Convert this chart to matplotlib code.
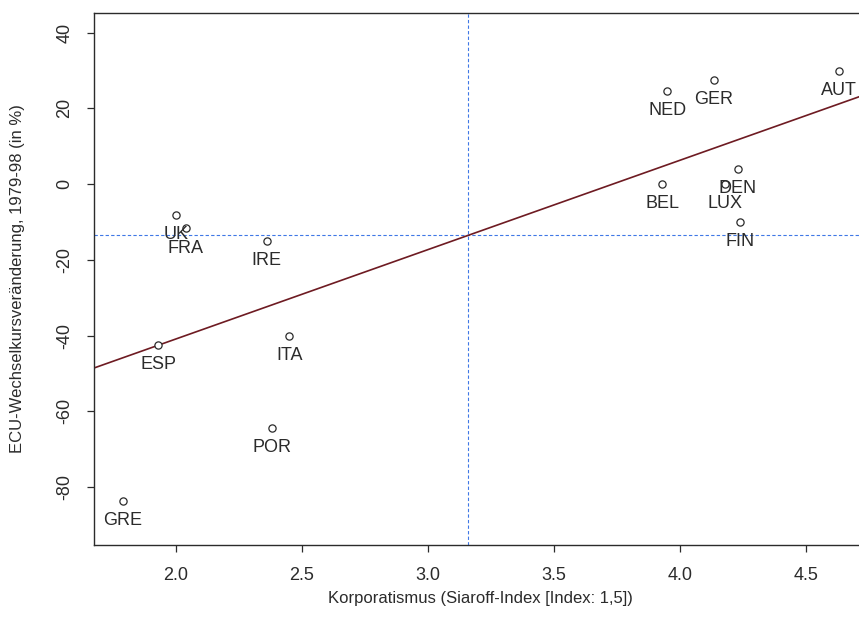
import numpy as np
import matplotlib
matplotlib.use("Agg")
import matplotlib.pyplot as plt

# ── Data ──────────────────────────────────────────────────────────────────────
countries = ["GRE", "ESP", "ITA", "POR", "UK", "FRA", "IRE",
             "NED", "GER", "AUT", "BEL", "DEN", "LUX", "FIN"]
korporatismus = [1.79, 1.93, 2.45, 2.38, 2.00, 2.04, 2.36,
                 3.95, 4.135, 4.63, 3.93, 4.23, 4.18, 4.24]
ecu_change = [-83.6, -42.5, -40.2, -64.4, -8.2, -11.7, -14.9,
              24.7, 27.5, 30.0, 0.0, 3.9, 0.0, -10.0]

x_ticks = [2.0, 2.5, 3.0, 3.5, 4.0, 4.5]
y_ticks = [-80, -60, -40, -20, 0, 20, 40]
y_range = [-90, 40]

x_label = "Korporatismus (Siaroff-Index [Index: 1,5])"
y_label = "ECU-Wechselkursveränderung, 1979-98 (in %)"

plt.rcParams["font.family"] = ["Liberation Sans", "DejaVu Sans"]

x = np.array(korporatismus)
y = np.array(ecu_change)

# R-style 4% axis extension
xr = x.max() - x.min()
xlim = (x.min() - 0.04 * xr, x.max() + 0.04 * xr)
yr = y_range[1] - y_range[0]
ylim = (y_range[0] - 0.04 * yr, y_range[1] + 0.04 * yr)

W, H = 859, 631
fig = plt.figure(figsize=(W / 100, H / 100), dpi=100)

# plot region in pixels; right edge runs past the image like in the reference
left_px, top_px, bottom_px = 94.3, 13.0, 544.5
px_per_unit = 252.0
right_px = left_px + (xlim[1] - xlim[0]) * px_per_unit
ax = fig.add_axes([left_px / W, 1 - bottom_px / H,
                   (right_px - left_px) / W, (bottom_px - top_px) / H])

ink = "#2b2b2b"
guide = "#3f78e6"

# mean lines
ax.axvline(x.mean(), color=guide, lw=0.8, ls=(0, (3, 2)), zorder=1)
ax.axhline(y.mean(), color=guide, lw=0.8, ls=(0, (3, 2)), zorder=1)

# regression line
slope, intercept = np.polyfit(x, y, 1)
xs = np.array(xlim)
ax.plot(xs, intercept + slope * xs, color="#6e1b22", lw=1.2, zorder=2)

# points
ax.plot(x, y, "o", ms=5.2, mfc="white", mec=ink, mew=0.9, zorder=3)

for name, xi, yi in zip(countries, x, y):
    ax.annotate(name, (xi, yi), xytext=(0, -8), textcoords="offset points",
                ha="center", va="top", fontsize=13, color=ink, zorder=4)

ax.set_xlim(xlim)
ax.set_ylim(ylim)
ax.set_xticks(x_ticks)
ax.set_xticklabels([f"{t:.1f}" for t in x_ticks])
ax.set_yticks(y_ticks)
ax.set_yticklabels([str(t) for t in y_ticks], rotation=90, va="center")

ax.tick_params(direction="out", length=5, width=0.9, colors=ink,
               labelsize=13, labelcolor=ink)
ax.tick_params(axis="x", pad=11)
ax.tick_params(axis="y", pad=10)
for s in ax.spines.values():
    s.set_color(ink)
    s.set_linewidth(1.0)
ax.spines["right"].set_visible(False)

ax.set_xlabel(x_label, fontsize=12, color=ink)
ax.set_ylabel(y_label, fontsize=12, color=ink)
ax.xaxis.set_label_coords(0.5, -(598 - bottom_px) / (bottom_px - top_px))
ax.xaxis.label.set_va("center")
ax.yaxis.set_label_coords(-(left_px - 18) / (right_px - left_px), 0.5)
ax.yaxis.label.set_va("center")

fig.savefig("out.png", dpi=100)
